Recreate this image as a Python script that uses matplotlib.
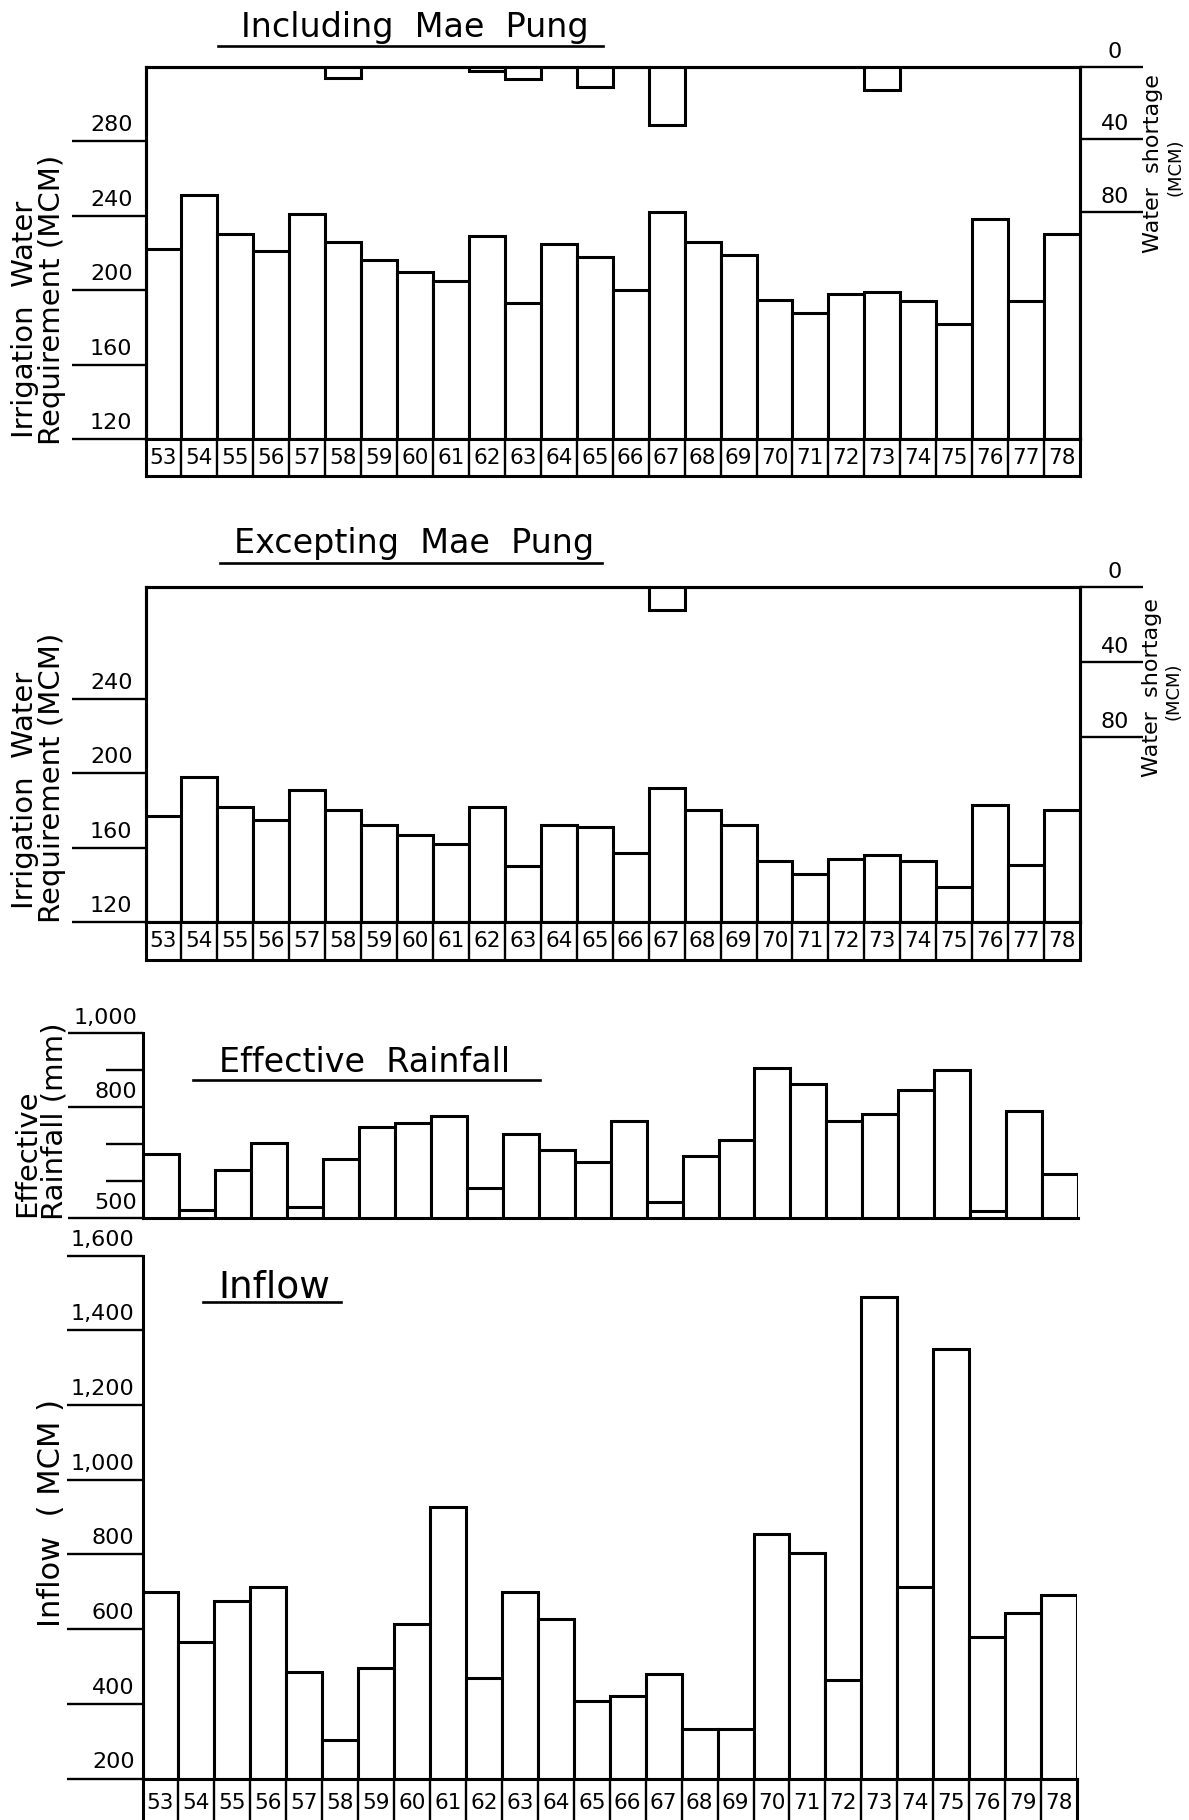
import numpy as np
import matplotlib
matplotlib.use("Agg")
import matplotlib.pyplot as plt
from matplotlib.lines import Line2D
from matplotlib.transforms import offset_copy

# ---- data -------------------------------------------------------------
years = ["53", "54", "55", "56", "57", "58", "59", "60", "61", "62", "63", "64", "65",
         "66", "67", "68", "69", "70", "71", "72", "73", "74", "75", "76", "77", "78"]
inflow_years = ["53", "54", "55", "56", "57", "58", "59", "60", "61", "62", "63", "64", "65",
                "66", "67", "68", "69", "70", "71", "72", "73", "74", "75", "76", "79", "78"]

irrigation_incl = [222, 251, 230, 221, 241, 226, 216, 210, 205, 229, 193, 225, 218,
                   200, 242, 226, 219, 195, 188, 198, 199, 194, 182, 238, 194, 230]
shortage_incl = [0, 0, 0, 0, 0, 6, 0, 0, 0, 2.5, 6.5, 0, 11,
                 0, 32, 0, 0, 0, 0, 0, 13, 0, 0, 0, 0, 0]

irrigation_excl = [177, 198, 182, 175, 191, 180, 172, 167, 162, 182, 150, 172, 171,
                   157, 192, 180, 172, 153, 146, 154, 156, 153, 139, 183, 151, 180]
shortage_excl = [0, 0, 0, 0, 0, 0, 0, 0, 0, 0, 0, 0, 0,
                 0, 12.5, 0, 0, 0, 0, 0, 0, 0, 0, 0, 0, 0]

rainfall = [672, 522, 630, 704, 531, 659, 747, 758, 776, 581, 726, 684, 653,
            763, 544, 668, 711, 904, 862, 762, 780, 846, 899, 520, 790, 618]

inflow = [700, 566, 675, 714, 485, 304, 497, 613, 928, 468, 700, 628, 408,
          420, 480, 333, 332, 855, 805, 463, 1488, 712, 1349, 578, 644, 690]

irr_ticks_incl = [120, 160, 200, 240, 280]
irr_ticks_excl = [120, 160, 200, 240]
shortage_ticks = [0, 40, 80]
rain_major = [500, 800, 1000]
rain_major_labels = ["500", "800", "1,000"]
rain_minor = [600, 700, 900]
inflow_ticks = [200, 400, 600, 800, 1000, 1200, 1400, 1600]
inflow_tick_labels = ["200", "400", "600", "800", "1,000", "1,200", "1,400", "1,600"]

# ---- figure helpers ---------------------------------------------------
W, H = 1189, 1820
fig = plt.figure(figsize=(W / 100, H / 100), dpi=100)
plt.rcParams["font.family"] = ["DejaVu Sans"]

LW = 2.2
TICK_W = 1.7
x = np.arange(len(years))


def rect(l, t, r, b):
    return [l / W, 1 - b / H, (r - l) / W, (b - t) / H]


def hline(x0, x1, y, lw=1.9):
    fig.add_artist(Line2D([x0 / W, x1 / W], [1 - y / H, 1 - y / H],
                          transform=fig.transFigure, color="black", lw=lw))


def ftext(xp, yp, s, size, rot=0, ha="center", va="center"):
    fig.text(xp / W, 1 - yp / H, s, fontsize=size, rotation=rot, ha=ha, va=va,
             color="black")


def draw_bars(ax, values):
    ax.bar(x, values, width=1.0, color="white", edgecolor="black", linewidth=LW,
           zorder=2)
    ax.set_xlim(-0.5, len(years) - 0.5)
    ax.set_xticks([])
    for s in ax.spines.values():
        s.set_linewidth(LW)


def left_ticks(ax, ticks, labels, length_px, dx, dy, size=16):
    ax.set_yticks(ticks)
    ax.tick_params(axis="y", which="major", left=True, length=length_px * 0.72,
                   width=TICK_W, labelleft=False, direction="out")
    tr = offset_copy(ax.get_yaxis_transform(), fig=fig, x=-dx, y=dy, units="dots")
    for v, s in zip(ticks, labels):
        ax.text(0, v, s, transform=tr, ha="right", va="bottom", fontsize=size,
                clip_on=False)


def shortage_axis(ax, values, top_value):
    ax2 = ax.twinx()
    ax2.set_ylim(top_value, 0)
    ax2.bar(x, values, width=1.0, color="white", edgecolor="black",
            linewidth=LW, zorder=2)
    ax2.set_xlim(-0.5, len(years) - 0.5)
    ax2.set_yticks(shortage_ticks)
    ax2.tick_params(axis="y", right=True, length=63 * 0.72, width=TICK_W,
                    labelright=False, direction="out")
    for s in ax2.spines.values():
        s.set_linewidth(LW)
    tr = offset_copy(ax2.get_yaxis_transform(), fig=fig, x=35, y=5, units="dots")
    for v in shortage_ticks:
        ax2.text(1, v, str(v), transform=tr, ha="center", va="bottom",
                 fontsize=16, clip_on=False)
    return ax2


def label_row(r, labels):
    lax = fig.add_axes(r)
    lax.set_xlim(-0.5, len(labels) - 0.5)
    lax.set_ylim(0, 1)
    lax.set_xticks([])
    lax.set_yticks([])
    for s in lax.spines.values():
        s.set_linewidth(LW)
    for i in range(1, len(labels)):
        lax.axvline(i - 0.5, color="black", lw=1.7)
    for i, s in enumerate(labels):
        lax.text(i, 0.5, s, ha="center", va="center", fontsize=15.5)
    return lax


def shortage_label(xc, yc):
    ftext(xc, yc, "Water  shortage", 16, rot=90)
    ftext(xc + 22, yc + 3, "(MCM)", 13, rot=90)


# ---- panel 1: including Mae Pung --------------------------------------
ax1 = fig.add_axes(rect(145.5, 66.7, 1080, 439.3))
draw_bars(ax1, irrigation_incl)
ax1.set_ylim(120, 320)
left_ticks(ax1, irr_ticks_incl, [str(t) for t in irr_ticks_incl], 74, 13, 6)
shortage_axis(ax1, shortage_incl, 205)
label_row(rect(145.5, 439.3, 1080, 475.7), years)

ftext(414.5, 37, "Including  Mae  Pung", 24, va="baseline")
hline(218, 603, 46)
ftext(25, 319, "Irrigation  Water", 21, rot=90)
ftext(52, 300, "Requirement (MCM)", 21, rot=90)
shortage_label(1153, 164)

# ---- panel 2: excepting Mae Pung --------------------------------------
ax3 = fig.add_axes(rect(145.5, 586.7, 1080, 922.3))
draw_bars(ax3, irrigation_excl)
ax3.set_ylim(120, 300)
left_ticks(ax3, irr_ticks_excl, [str(t) for t in irr_ticks_excl], 74, 13, 6)
shortage_axis(ax3, shortage_excl, 179)
label_row(rect(145.5, 922.3, 1080, 960), years)

ftext(414.5, 553, "Excepting  Mae  Pung", 24, va="baseline")
hline(220, 601.5, 563)
ftext(25, 790, "Irrigation  Water", 21, rot=90)
ftext(52, 778, "Requirement (MCM)", 21, rot=90)
shortage_label(1152, 688)

# ---- panel 3: effective rainfall --------------------------------------
ax5 = fig.add_axes(rect(143.3, 1032.7, 1078, 1218.3))
draw_bars(ax5, rainfall)
ax5.set_ylim(500, 1000)
ax5.spines["top"].set_visible(False)
ax5.spines["right"].set_visible(False)
left_ticks(ax5, rain_major, rain_major_labels, 75, 6, 5)
ax5.set_yticks(rain_minor, minor=True)
ax5.tick_params(axis="y", which="minor", left=True, length=37 * 0.72,
                width=TICK_W, direction="out")

ftext(365, 1072, "Effective  Rainfall", 24, va="baseline")
hline(193, 540, 1080)
ftext(27, 1153, "Effective", 21, rot=90)
ftext(54, 1121, "Rainfall (mm)", 21, rot=90)

# ---- panel 4: inflow --------------------------------------------------
ax6 = fig.add_axes(rect(142.5, 1255.6, 1077, 1778.5))
draw_bars(ax6, inflow)
ax6.set_ylim(200, 1600)
ax6.spines["top"].set_visible(False)
ax6.spines["right"].set_visible(False)
left_ticks(ax6, inflow_ticks, inflow_tick_labels, 76, 8, 6)
label_row(rect(142.5, 1778.5, 1077, 1828), inflow_years)

ftext(274.5, 1297, "Inflow", 27, va="baseline")
hline(203, 340.6, 1302)
ftext(52, 1513, "Inflow  ( MCM )", 22, rot=90)

fig.savefig("out.png", dpi=100, facecolor="white")
